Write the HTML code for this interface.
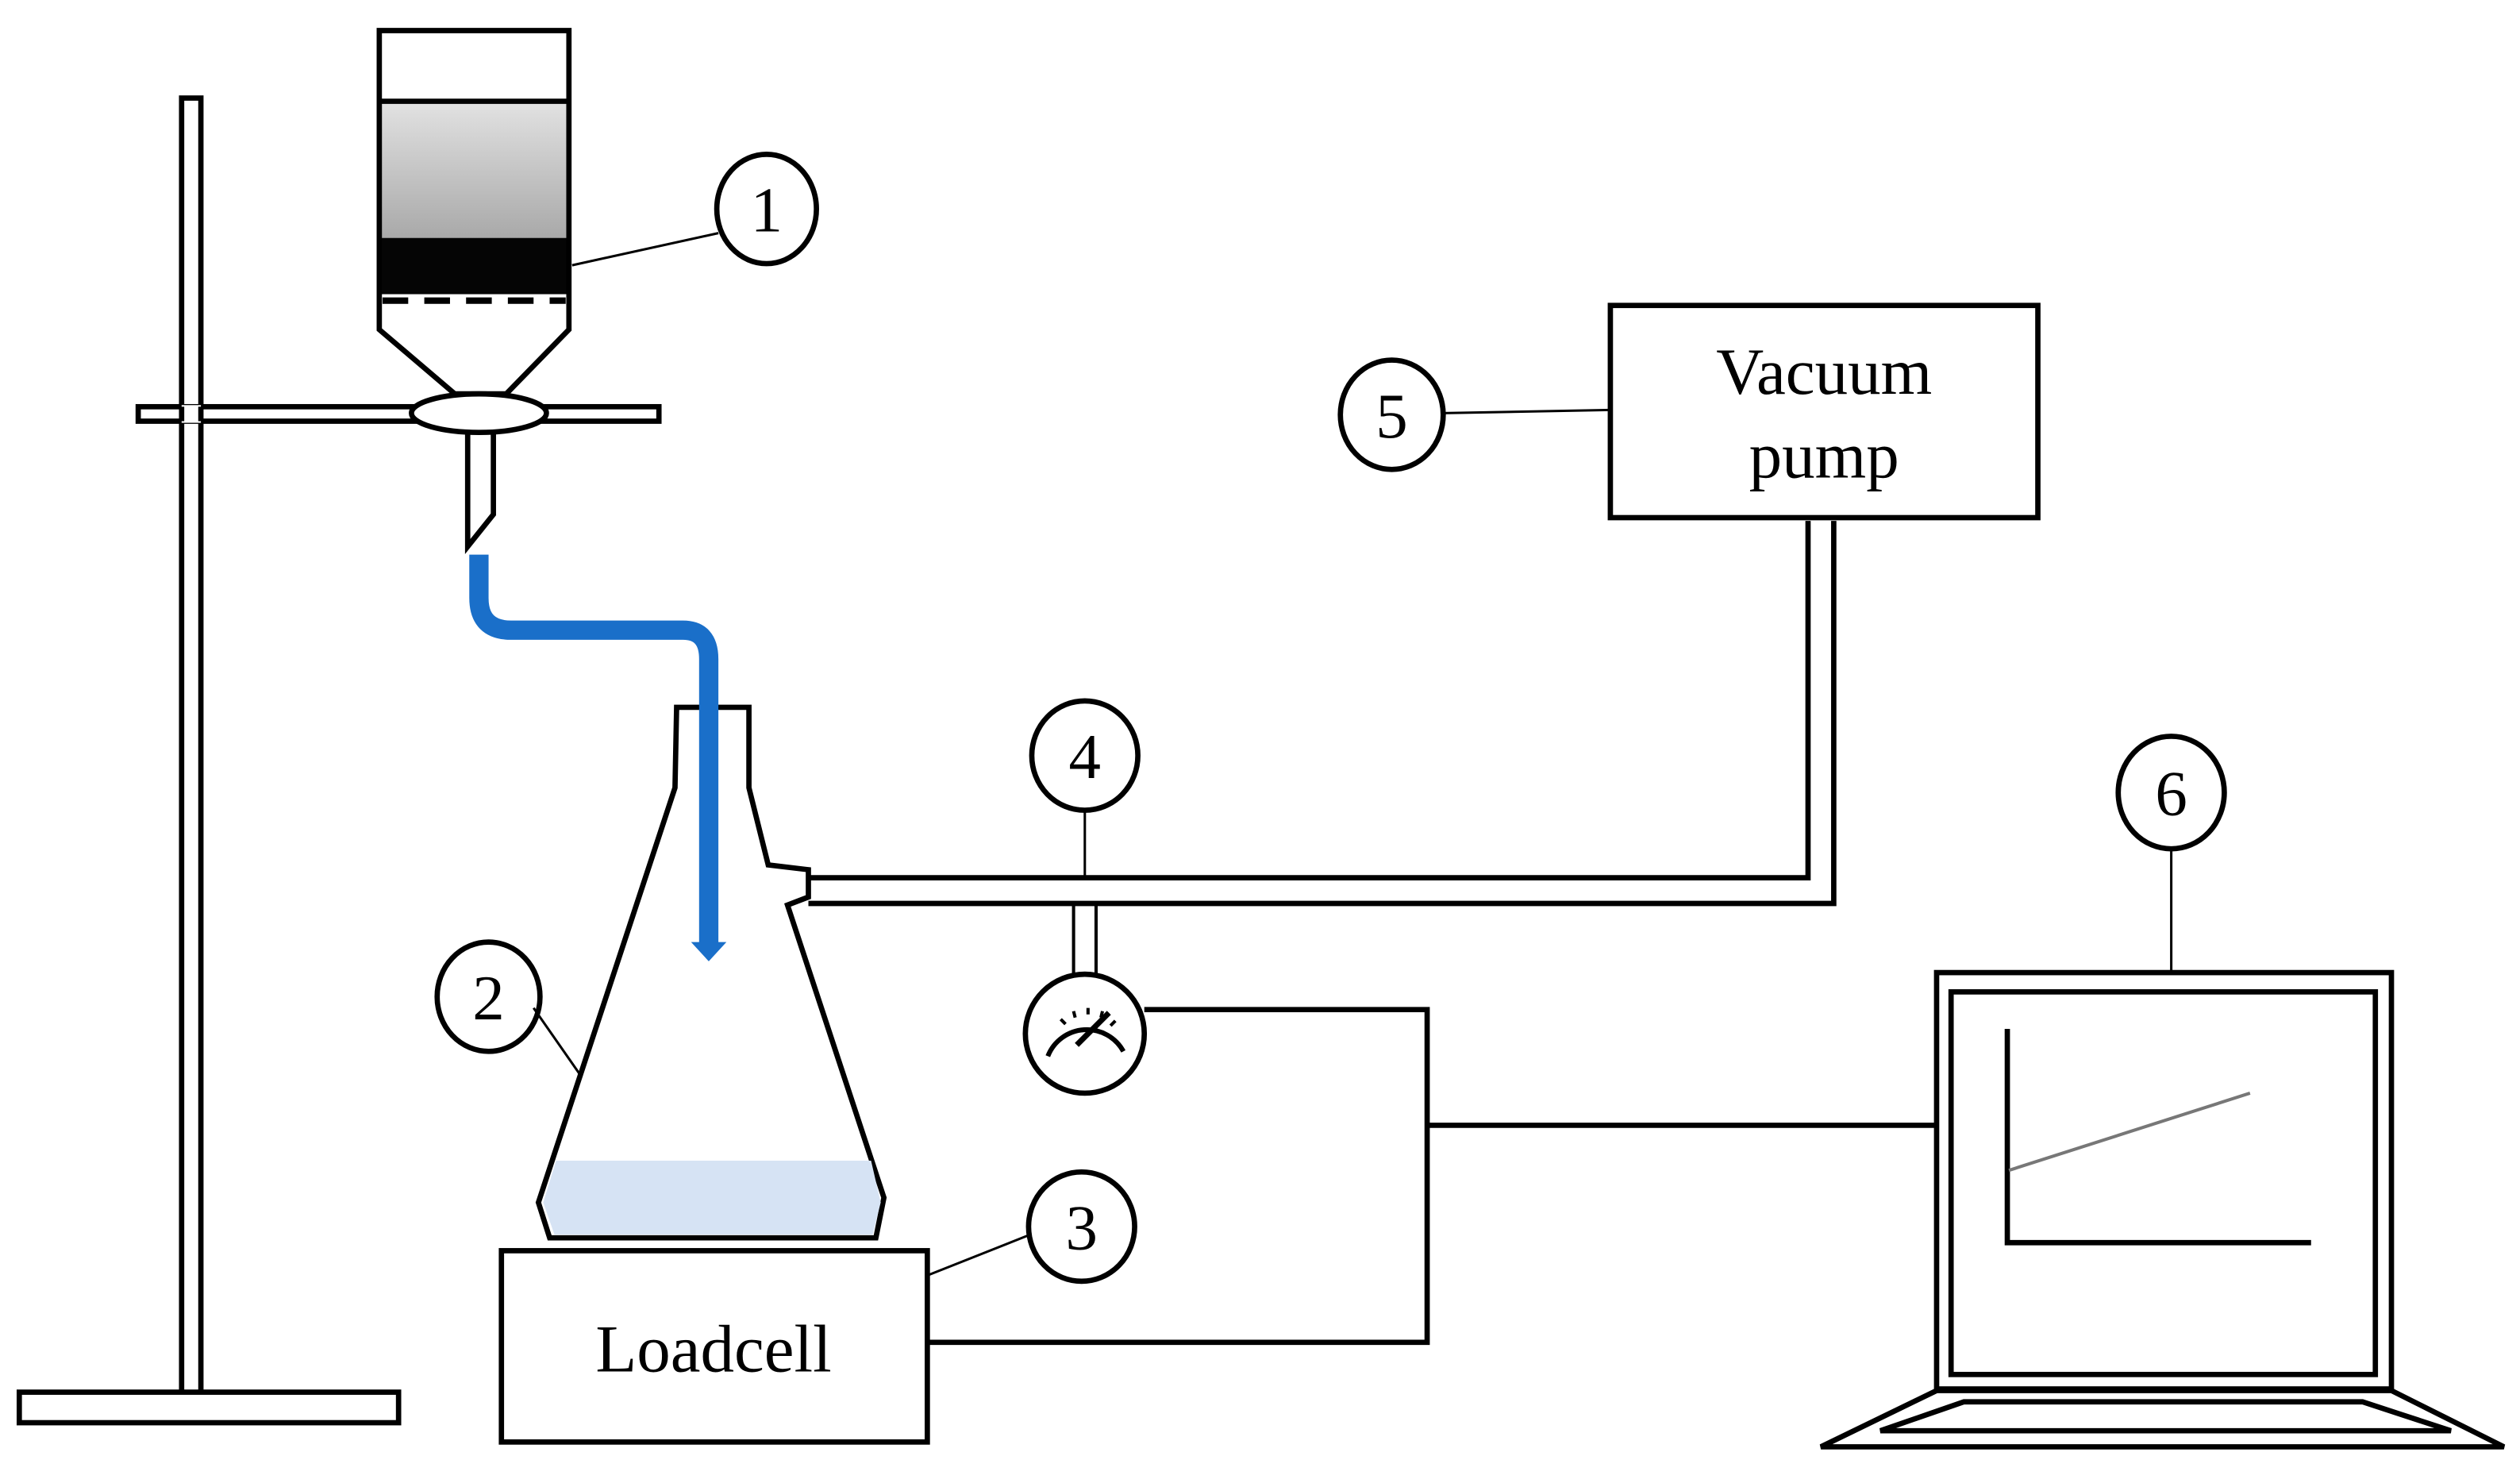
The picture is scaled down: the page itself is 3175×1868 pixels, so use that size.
<!DOCTYPE html>
<html><head><meta charset="utf-8"><style>html,body{margin:0;padding:0;background:#fff}svg{display:block}</style></head>
<body>
<svg width="3175" height="1868" viewBox="0 0 1568 922.5" preserveAspectRatio="none" xmlns="http://www.w3.org/2000/svg" font-family="Liberation Serif, serif">
<defs><linearGradient id="g" x1="0" y1="0" x2="0" y2="1"><stop offset="0" stop-color="#e2e2e2"/><stop offset="1" stop-color="#a9a9a9"/></linearGradient></defs>
<g fill="none" stroke="#000" stroke-width="3.3">
<!-- stand -->
<rect x="113" y="61" width="12" height="806" fill="#fff"/>
<rect x="12" y="866" width="236" height="19" fill="#fff"/>
<rect x="86" y="253" width="324" height="9" fill="#fff"/>
<rect x="113" y="252" width="12" height="11" fill="#fff" stroke="none"/>
<line x1="113" y1="253" x2="113" y2="262"/><line x1="125" y1="253" x2="125" y2="262"/>
<!-- funnel -->
<rect x="235" y="63" width="120" height="85" fill="url(#g)" stroke="none"/>
<rect x="235" y="148" width="120" height="35" fill="#050505" stroke="none"/>
<path d="M236 19 H354 V205 L315 245 H283 L236 205 Z"/>
<line x1="236" y1="63" x2="354" y2="63"/>
<line x1="238" y1="187" x2="352" y2="187" stroke-dasharray="16,10" stroke-width="4"/>
<path d="M291 265 V340 L307 320 V265" fill="#fff"/>
<ellipse cx="298" cy="257" rx="42" ry="12" fill="#fff"/>
<!-- label 1 -->
<ellipse cx="477" cy="130" rx="31" ry="34"/>
<line x1="356" y1="165" x2="447" y2="145" stroke-width="1.5"/>
<!-- flask -->
<path d="M421 440 H466 V490 L478 538 L503 541 V558 L490 563 L550 745 L545 770 L342 770 L335 748 L420 490 Z" fill="#fff"/>
<path d="M346 722 H542 L548 748 L543 768 H345 L338 748 Z" fill="#d6e3f4" stroke="none"/>
<ellipse cx="304" cy="620" rx="32" ry="34"/>
<line x1="332" y1="627" x2="362" y2="670" stroke-width="1.5"/>
<!-- tube to pump -->
<polyline points="503,546 1125,546 1125,324"/>
<polyline points="503,562 1141,562 1141,324"/>
<rect x="1002" y="190" width="266" height="132" fill="#fff"/>
<ellipse cx="866" cy="258" rx="32" ry="34"/>
<line x1="898" y1="257" x2="1002" y2="255" stroke-width="1.5"/>
<!-- gauge -->
<ellipse cx="675" cy="470" rx="33" ry="34"/>
<line x1="675" y1="504" x2="675" y2="546" stroke-width="1.5"/>
<line x1="668" y1="562" x2="668" y2="607" stroke-width="2"/><line x1="682" y1="562" x2="682" y2="607" stroke-width="2"/>
<circle cx="675" cy="643" r="37" fill="#fff"/>
<path d="M652 657 A26 26 0 0 1 699 654" stroke-width="3"/>
<path d="M660 634 l3 3 M668 629 l1 4 M677 627 v4 M686 629 l-1 4 M694 635 l-3 3" stroke-width="2"/>
<line x1="670" y1="650" x2="690" y2="630" stroke-width="3.5"/>
<!-- wires -->
<polyline points="712,628 888,628 888,835 577,835"/>
<line x1="888" y1="700" x2="1205" y2="700"/>
<!-- loadcell -->
<rect x="312" y="778" width="265" height="119" fill="#fff"/>
<ellipse cx="673" cy="763" rx="33" ry="34"/>
<line x1="578" y1="793" x2="641" y2="768" stroke-width="1.5"/>
<!-- laptop -->
<rect x="1205" y="605" width="283" height="259"/>
<rect x="1214" y="617" width="264" height="238"/>
<polyline points="1249,640 1249,773 1438,773"/>
<line x1="1250" y1="728" x2="1400" y2="680" stroke="#777" stroke-width="2"/>
<path d="M1205 865 H1488 L1558 900 H1133 Z"/>
<path d="M1222 872 H1470 L1525 890 H1170 Z"/>
<ellipse cx="1351" cy="493" rx="33" ry="35"/>
<line x1="1351" y1="528" x2="1351" y2="605" stroke-width="1.5"/>
</g>
<!-- blue pipe -->
<path d="M298 345 V372 Q298 392 318 392 H425 Q441 392 441 410 V588" fill="none" stroke="#1a6fc9" stroke-width="12"/>
<path d="M430 586 H452 L441 598 Z" fill="#1a6fc9"/>
<g font-size="40" text-anchor="middle" fill="#000">
<text x="477" y="144">1</text>
<text x="304" y="634">2</text>
<text x="673" y="777">3</text>
<text x="675" y="484">4</text>
<text x="866" y="272">5</text>
<text x="1351" y="507">6</text>
<text x="1135" y="245" font-size="41">Vacuum</text>
<text x="1135" y="297" font-size="41">pump</text>
<text x="444" y="853" font-size="42">Loadcell</text>
</g>
</svg>
</body></html>
